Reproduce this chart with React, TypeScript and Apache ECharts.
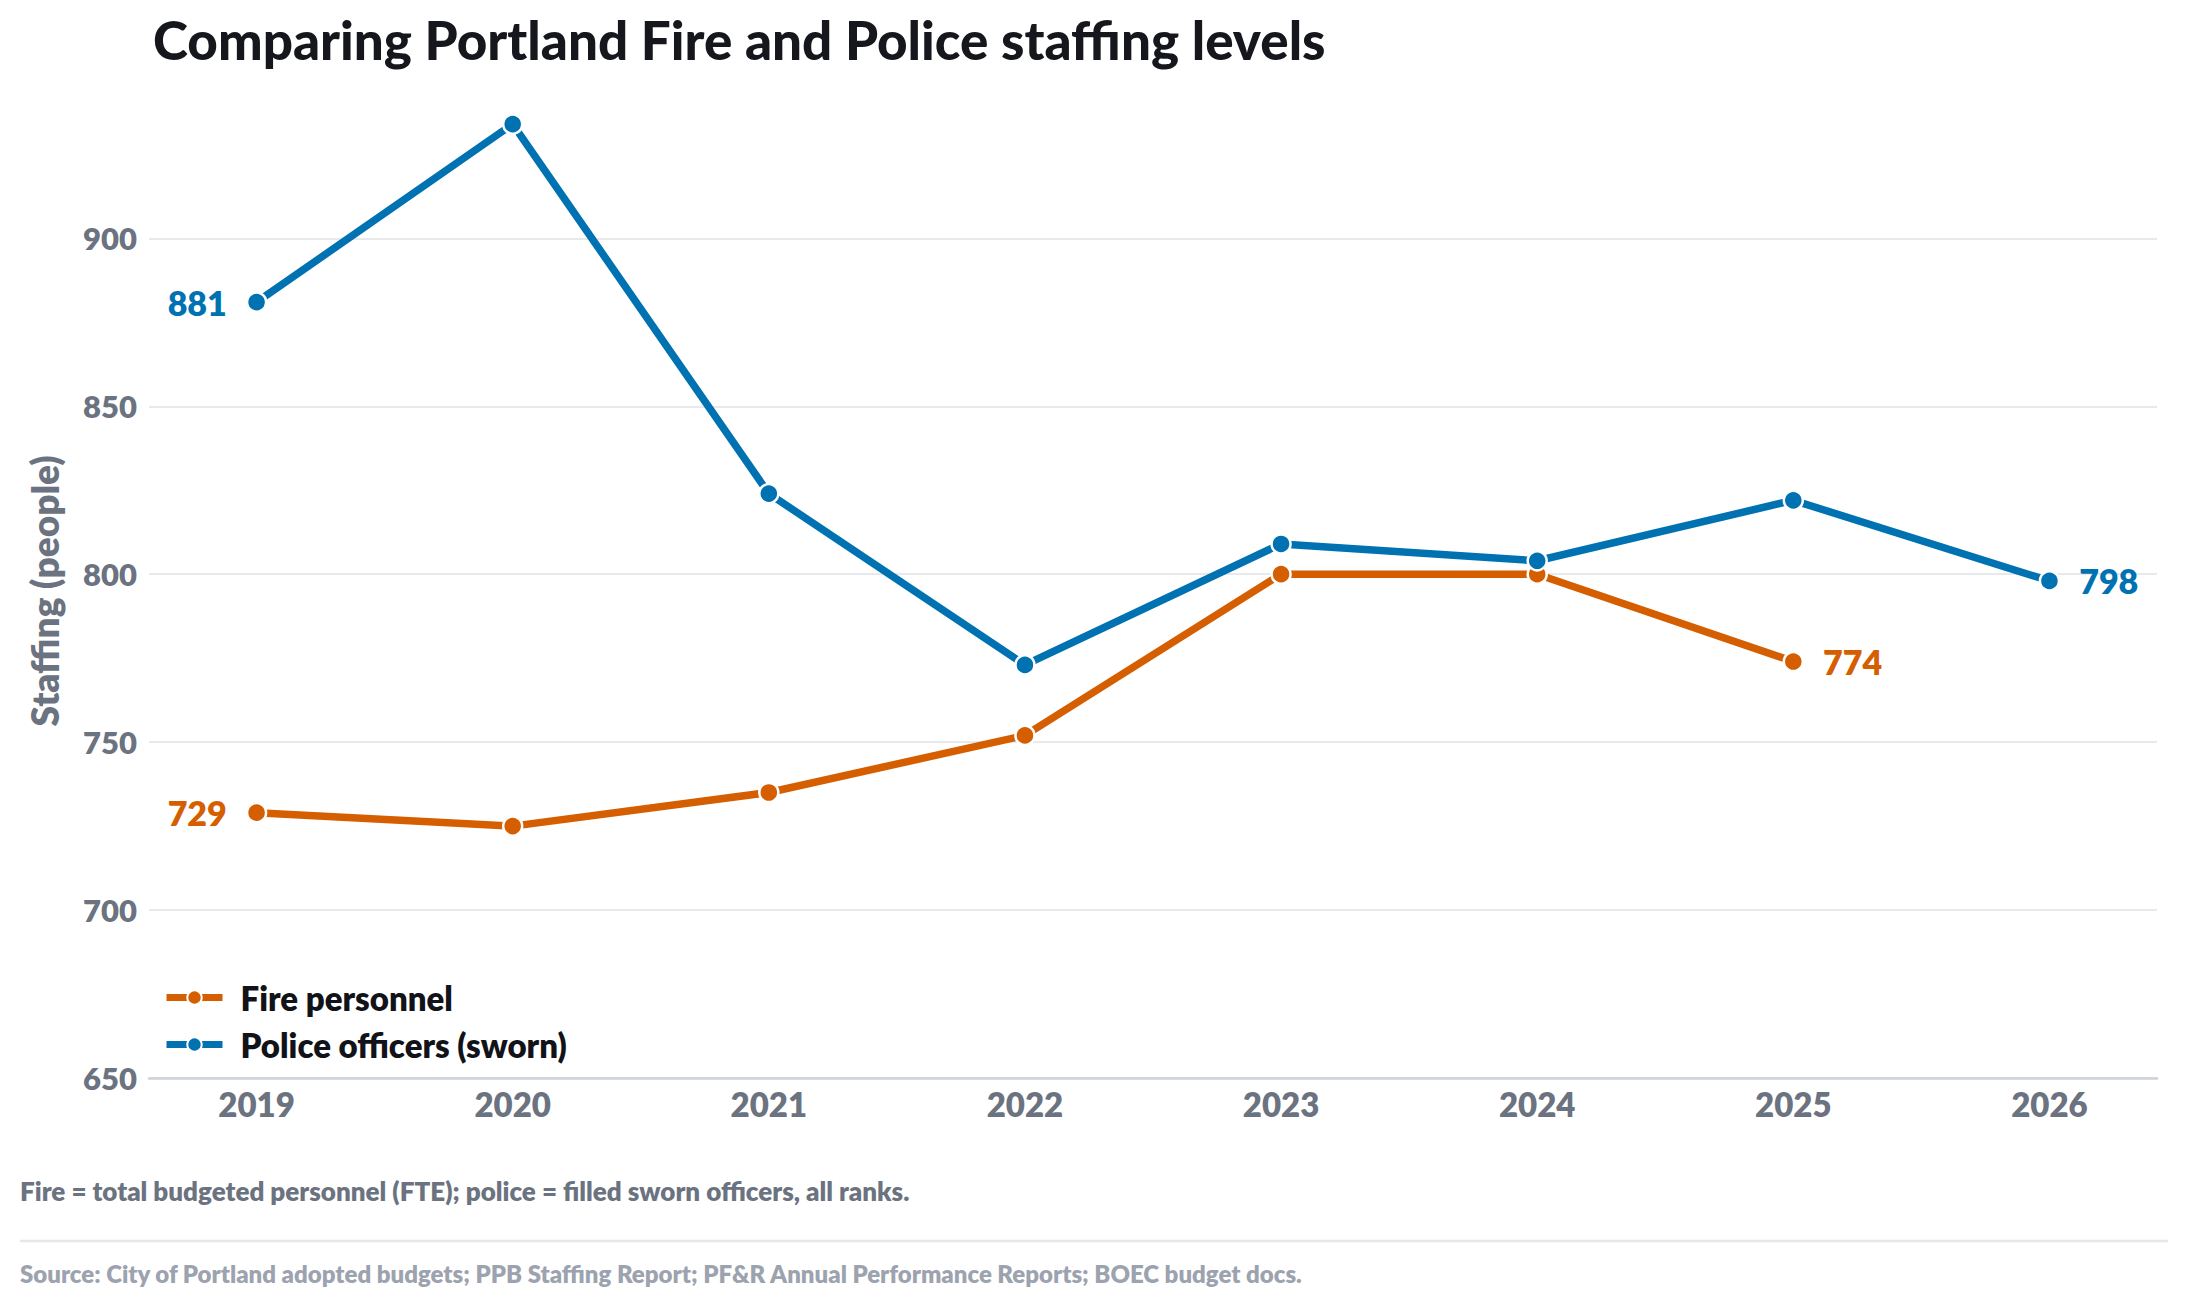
import React, { useEffect, useRef } from "react";
import * as echarts from "echarts";

const years = [2019, 2020, 2021, 2022, 2023, 2024, 2025, 2026];
const fireValues = [729, 725, 735, 752, 800, 800, 774];
const policeValues = [881, 934, 824, 773, 809, 804, 822, 798];
const yTicks = { min: 650, max: 940, interval: 50 };

const FIRE = "#D55E00";
const POLICE = "#0072B2";
const FONT = "Lato, 'Open Sans', sans-serif";

function buildData(vals: number[], color: string) {
  const last = vals.length - 1;
  return vals.map((v, i) => {
    const item: any = { value: [years[i], v] };
    if (i === 0 || i === last) {
      item.label = {
        show: true,
        position: i === 0 ? "left" : "right",
        distance: 19,
        formatter: String(v),
        color,
        fontSize: 34,
        fontWeight: 800,
        fontFamily: FONT,
      };
    }
    return item;
  });
}

export default function App() {
  const ref = useRef<HTMLDivElement>(null);
  useEffect(() => {
    document.body.style.margin = "0";
    const chart = echarts.init(ref.current!, undefined, { renderer: "svg" });
    const option: any = {
      animation: false,
      backgroundColor: "#ffffff",
      textStyle: { fontFamily: FONT },
      title: {
        text: "Comparing Portland Fire and Police staffing levels",
        left: 148,
        top: 8,
        textStyle: { fontSize: 53, fontWeight: 900, color: "#15171c", fontFamily: FONT },
      },
      grid: { left: 149, right: 30, top: 104, bottom: 228, containLabel: false },
      legend: {
        orient: "vertical",
        left: 163,
        top: 981,
        itemWidth: 56,
        itemHeight: 18,
        itemGap: 14,
        padding: 0,
        lineStyle: { width: 7 },
        textStyle: { fontSize: 33, fontWeight: 800, color: "#111318", fontFamily: FONT, padding: [0, 0, 0, 13] },
        data: ["Fire personnel", "Police officers (sworn)"],
      },
      xAxis: {
        type: "value",
        min: 2018.58,
        max: 2026.42,
        axisLine: { show: true, lineStyle: { color: "#cdd1d8", width: 2.5 } },
        axisTick: { show: false },
        splitLine: { show: false },
        axisLabel: {
          customValues: years,
          margin: 9,
          formatter: (v: number) => String(v),
          fontSize: 33,
          fontWeight: 800,
          color: "#6b7280",
          fontFamily: FONT,
        },
      },
      yAxis: {
        type: "value",
        min: yTicks.min,
        max: yTicks.max,
        interval: yTicks.interval,
        name: "Staffing (people)",
        nameLocation: "middle",
        nameGap: 86,
        nameTextStyle: { fontSize: 37, fontWeight: 800, color: "#6b7280", fontFamily: FONT },
        axisLine: { show: false },
        axisTick: { show: false },
        axisLabel: {
          showMaxLabel: false,
          margin: 12,
          fontSize: 31,
          fontWeight: 800,
          color: "#6b7280",
          fontFamily: FONT,
        },
        splitLine: { show: true, showMaxLine: false, lineStyle: { color: "#e8e9ed", width: 2.2 } },
      },
      series: [
        {
          name: "Fire personnel",
          type: "line",
          data: buildData(fireValues, FIRE),
          color: FIRE,
          lineStyle: { width: 7.5, color: FIRE },
          symbol: "circle",
          symbolSize: 19,
          itemStyle: { color: FIRE, borderColor: "#ffffff", borderWidth: 2.5 },
          z: 2,
        },
        {
          name: "Police officers (sworn)",
          type: "line",
          data: buildData(policeValues, POLICE),
          color: POLICE,
          lineStyle: { width: 7.5, color: POLICE },
          symbol: "circle",
          symbolSize: 19,
          itemStyle: { color: POLICE, borderColor: "#ffffff", borderWidth: 2.5 },
          z: 3,
        },
      ],
      graphic: [
        {
          type: "text",
          left: 20,
          top: 1178,
          style: {
            text: "Fire = total budgeted personnel (FTE); police = filled sworn officers, all ranks.",
            fontSize: 26,
            fontWeight: 800,
            fill: "#6b7280",
            fontFamily: FONT,
          },
        },
        {
          type: "line",
          shape: { x1: 20, y1: 1241, x2: 2168, y2: 1241 },
          style: { stroke: "#e6e7eb", lineWidth: 2.5 },
        },
        {
          type: "text",
          left: 20,
          top: 1261,
          style: {
            text: "Source: City of Portland adopted budgets; PPB Staffing Report; PF&R Annual Performance Reports; BOEC budget docs.",
            fontSize: 24,
            fontWeight: 800,
            fill: "#9ca3af",
            fontFamily: FONT,
          },
        },
      ],
    };
    chart.setOption(option);
    return () => chart.dispose();
  }, []);
  return <div ref={ref} style={{ width: 2187, height: 1306 }} />;
}
